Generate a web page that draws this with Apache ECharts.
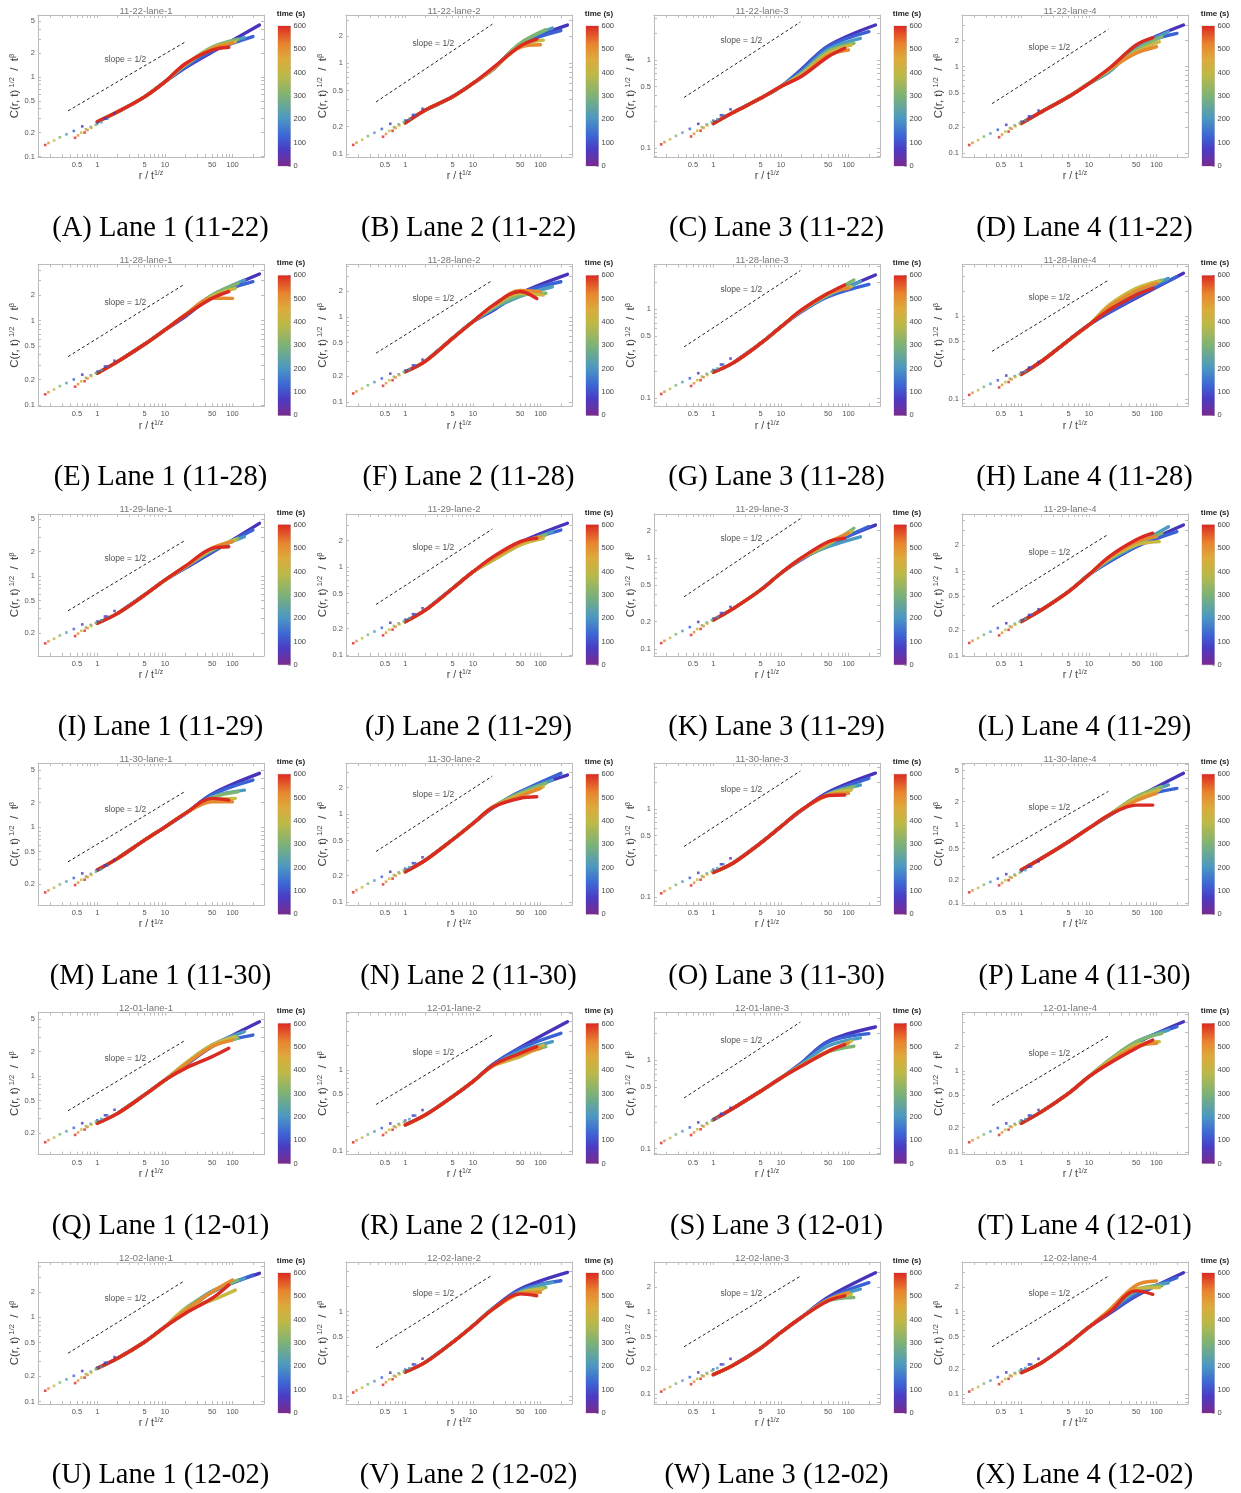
<!DOCTYPE html>
<html><head><meta charset="utf-8">
<script src="https://cdn.jsdelivr.net/npm/echarts@6/dist/echarts.min.js"></script>
<style>html,body{margin:0;padding:0;background:#fff}#c{width:1241px;height:1493px}</style>
</head><body><div id="c"></div>
<script>
// ---------------- data ----------------
const dates = ['11-22', '11-28', '11-29', '11-30', '12-01', '12-02'];
const lanes = [1, 2, 3, 4];
const letters = ['A','B','C','D','E','F','G','H','I','J','K','L','M','N','O','P','Q','R','S','T','U','V','W','X'];
const times = [60, 120, 200, 300, 400, 500, 600];          // s, one curve each
const endX = [250, 200, 150, 120, 110, 100, 88];             // last r/t^(1/z) of each curve
const bodyX = [1, 2, 5, 10];                                 // x of shared body points
const lineStartX = [2, 2, 1, 1, 1, 1, 1];
const tailX = [20, 50];
const xRange = [0.133, 292];
const xMajor = [0.5, 1, 5, 10, 50, 100];
const xTickVals = [0.2,0.3,0.4,0.5,0.6,0.7,0.8,0.9,1,2,3,4,5,6,7,8,9,10,20,30,40,50,60,70,80,90,100,200];
const yTickVals = [0.08,0.09,0.1,0.2,0.3,0.4,0.5,0.6,0.7,0.8,0.9,1,2,3,4,5,6];
const cbTicks = [0, 100, 200, 300, 400, 500, 600];
const slopeLine = [[0.37, 0.375], [19.4, 2.7]];
const slopeLabel = [2.6, 1.65];

// per panel (A..X)
const yMin = [0.099,0.0927,0.079,0.0909, 0.0963,0.0887,0.0805,0.0814, 0.105,0.098,0.0842,0.0995,
              0.11,0.092,0.0807,0.0937, 0.1085,0.0903,0.0858,0.0929, 0.0939,0.082,0.0756,0.0756];
const yMax = [5.96,3.41,3.25,3.95, 4.65,4.16,3.17,4.19, 5.8,4.02,3.06,4.71,
              6.07,3.78,3.31,6.2, 6.0,5.11,3.46,5.26, 4.52,3.84,4.02,4.02];
const yLabels = [
  [0.1,0.2,0.5,1,2,5],[0.1,0.2,0.5,1,2],[0.1,0.5,1],[0.1,0.2,0.5,1,2],
  [0.1,0.2,0.5,1,2],[0.1,0.2,0.5,1,2],[0.1,0.5,1],[0.1,0.5,1],
  [0.2,0.5,1,2,5],[0.1,0.2,0.5,1,2],[0.1,0.2,0.5,1,2],[0.1,0.2,0.5,1,2],
  [0.2,0.5,1,2,5],[0.1,0.2,0.5,1,2],[0.1,0.5,1],[0.1,0.2,0.5,1,2,5],
  [0.2,0.5,1,2,5],[0.1,0.5,1],[0.1,0.5,1],[0.1,0.2,0.5,1,2],
  [0.1,0.2,0.5,1,2],[0.1,0.5,1],[0.1,0.2,0.5,1,2],[0.1,0.2,0.5,1,2]
];
const bodyY = [
  [0.274,0.365,0.562,0.866],[0.221,0.306,0.428,0.6],[0.19,0.255,0.367,0.5],[0.222,0.303,0.45,0.64],
  [0.238,0.327,0.525,0.776],[0.227,0.303,0.56,0.88],[0.195,0.25,0.41,0.63],[0.198,0.285,0.51,0.78],
  [0.263,0.348,0.585,0.89],[0.239,0.325,0.57,0.88],[0.208,0.28,0.445,0.68],[0.253,0.348,0.57,0.9],
  [0.297,0.413,0.69,1.0],[0.221,0.3,0.51,0.78],[0.19,0.245,0.41,0.63],[0.265,0.374,0.61,0.91],
  [0.263,0.348,0.585,0.89],[0.21,0.28,0.47,0.72],[0.213,0.289,0.446,0.63],[0.226,0.315,0.53,0.85],
  [0.249,0.327,0.51,0.77],[0.195,0.255,0.435,0.68],[0.172,0.225,0.36,0.56],[0.182,0.24,0.41,0.65]
];
const y20 = [
  [1.3,1.32,1.38,1.42,1.42,1.44,1.46],[0.86,0.86,0.87,0.87,0.87,0.88,0.9],[0.78,0.76,0.72,0.7,0.68,0.66,0.65],[0.88,0.88,0.88,0.9,0.92,0.94,0.96],
  [1.12,1.14,1.17,1.18,1.18,1.17,1.16],[1.2,1.22,1.25,1.3,1.33,1.36,1.38],[0.93,0.94,0.95,0.96,0.96,0.97,0.97],[1.1,1.12,1.2,1.3,1.36,1.3,1.18],
  [1.25,1.27,1.28,1.3,1.3,1.31,1.32],[1.22,1.22,1.22,1.2,1.2,1.26,1.31],[0.96,0.97,0.98,0.98,0.99,0.99,1.0],[1.28,1.29,1.33,1.38,1.4,1.44,1.47],
  [1.45,1.46,1.46,1.47,1.47,1.47,1.47],[1.18,1.19,1.2,1.21,1.21,1.2,1.2],[0.96,0.96,0.97,0.97,0.97,0.97,0.97],[1.32,1.33,1.34,1.35,1.35,1.35,1.34],
  [1.35,1.37,1.4,1.42,1.43,1.38,1.24],[1.18,1.17,1.15,1.13,1.12,1.14,1.15],[0.93,0.92,0.9,0.88,0.87,0.86,0.855],[1.3,1.32,1.36,1.37,1.33,1.28,1.24],
  [1.15,1.18,1.24,1.28,1.25,1.2,1.11],[1.1,1.1,1.09,1.08,1.08,1.08,1.08],[0.85,0.85,0.85,0.85,0.85,0.85,0.85],[0.95,0.97,1.0,1.02,1.03,1.05,0.98]
];
const y50 = [
  [2.05,2.1,2.3,2.37,2.3,2.25,2.17],[1.6,1.6,1.65,1.66,1.55,1.5,1.55],[1.45,1.42,1.32,1.25,1.2,1.13,1.09],[1.7,1.7,1.62,1.56,1.48,1.43,1.78],
  [1.95,1.97,2.0,2.02,1.95,1.85,1.84],[1.9,1.9,1.75,1.8,1.9,2.05,2.0],[1.4,1.38,1.42,1.45,1.47,1.5,1.5],[1.65,1.7,1.9,2.1,2.16,2.0,1.79],
  [1.95,2.0,2.05,2.1,2.15,2.2,2.19],[1.9,1.85,1.8,1.78,1.78,1.88,1.94],[1.4,1.38,1.33,1.4,1.45,1.48,1.51],[1.93,1.93,2.0,2.05,2.02,2.2,2.32],
  [2.55,2.5,2.35,2.3,2.15,2.04,2.25],[1.79,1.78,1.75,1.72,1.66,1.6,1.51],[1.55,1.5,1.48,1.46,1.45,1.43,1.42],[2.2,2.2,2.25,2.3,2.2,2.05,1.8],
  [2.3,2.35,2.4,2.4,2.4,2.3,1.73],[1.9,1.85,1.7,1.55,1.46,1.55,1.61],[1.64,1.6,1.45,1.25,1.25,1.27,1.26],[2.2,2.25,2.3,2.3,2.1,2.0,1.91],
  [2.0,2.0,2.05,2.0,1.6,2.01,1.68],[1.85,1.8,1.72,1.68,1.65,1.63,1.62],[1.5,1.45,1.4,1.35,1.38,1.4,1.36],[1.55,1.6,1.75,1.85,1.9,2.1,1.79]
];
const yEnd = [
  [4.47,3.2,3.1,2.95,2.75,2.65,2.35],[2.64,2.3,2.45,2.35,1.8,1.6,1.85],[2.5,2.1,1.76,1.55,1.48,1.3,1.36],[3.03,2.42,2.53,2.22,1.94,1.7,2.16],
  [3.58,2.9,3.04,2.77,2.42,1.84,2.21],[3.18,2.6,2.27,1.9,1.81,1.98,1.65],[2.41,1.89,2.03,2.12,1.78,1.71,1.86],[3.27,2.97,2.84,2.7,2.64,2.47,2.16],
  [4.43,3.67,3.03,2.9,2.77,2.64,2.29],[3.14,2.63,2.52,2.31,2.12,2.21,2.12],[2.3,2.21,1.71,2.12,1.95,1.87,1.65],[3.48,2.9,3.32,2.78,2.21,2.53,2.78],
  [4.56,3.77,2.84,2.71,2.25,2.04,2.14],[2.77,2.9,2.43,2.23,2.04,1.96,1.57],[2.55,2.23,1.87,1.79,1.64,1.51,1.44],[4.6,2.95,3.26,3.1,2.81,2.55,1.8],
  [4.64,3.18,3.5,2.9,3.04,2.76,2.19],[3.95,2.84,2.24,1.94,2.03,1.85,1.94],[2.38,2.0,1.79,1.44,1.64,1.57,1.5],[4.06,3.52,3.2,2.92,2.3,2.2,2.41],
  [3.32,3.17,2.9,2.77,2.1,2.77,2.41],[2.9,2.31,2.21,1.93,1.85,1.69,1.54],[2.97,2.25,1.88,1.49,1.63,1.71,1.56],[2.97,2.59,2.25,2.06,1.96,2.36,1.63]
];
// y of the first (red, t = 600 s) point at r / t^(1/z) = 0.17, per panel
const dotBase = [0.14,0.126,0.11,0.125, 0.134,0.126,0.111,0.112, 0.149,0.136,0.116,0.141,
                 0.158,0.129,0.11,0.137, 0.154,0.128,0.116,0.132, 0.135,0.112,0.107,0.107];
// first three small-r points of each curve: x, and y relative to dotBase
const dotX1 = [0.6, 0.45, 0.35, 0.28, 0.23, 0.19, 0.17];
const dotX2 = [1.3, 1.0, 0.8, 0.68, 0.58, 0.52, 0.47];
const dotX3 = [1.8, 1.4, 1.15, 0.95, 0.82, 0.72, 0.65];
const dotR1 = [1.71, 1.5, 1.36, 1.25, 1.14, 1.06, 1.0];
const dotR2 = [2.14, 1.86, 1.68, 1.57, 1.43, 1.32, 1.23];
const dotR3 = [2.5, 2.14, 1.93, 1.79, 1.64, 1.54, 1.43];

// ---------------- styles ----------------
const curveColors = ['#4834bb', '#3a62d4', '#4b9ac2', '#7fb572', '#c9b841', '#e68a30', '#da2b22'];
const cbStops = [
  {offset: 0, color: '#7a2a8e'}, {offset: 0.12, color: '#4a3cc4'}, {offset: 0.22, color: '#3d67d4'},
  {offset: 0.34, color: '#4c98c2'}, {offset: 0.5, color: '#7db276'}, {offset: 0.65, color: '#bdb947'},
  {offset: 0.76, color: '#dcab3b'}, {offset: 0.87, color: '#e8852f'}, {offset: 1, color: '#dc2a22'}
];
const colOff = [0, 308, 616, 924];
const rowPitch = 249.4;
const frameColor = '#bcbcbc';
const labelColor = '#555';
const fmt = v => String(+(+v).toPrecision(3));

const grids = [], xAxes = [], yAxes = [], series = [], graphics = [];

for (let p = 0; p < 24; p++) {
  const row = Math.floor(p / 4), col = p % 4;
  const ox = colOff[col], oy = rowPitch * row;
  const gi = grids.length;
  grids.push({left: ox + 38, top: oy + 15, width: 226, height: 142});
  const yTicks = yTickVals.filter(v => v >= yMin[p] && v <= yMax[p]);
  const xi = xAxes.length, yi = yAxes.length;
  xAxes.push({
    type: 'log', gridIndex: gi, min: xRange[0], max: xRange[1], position: 'bottom',
    axisLine: {show: true, lineStyle: {color: frameColor, width: 1}},
    axisTick: {show: true, inside: true, length: 3, customValues: xTickVals, lineStyle: {color: frameColor}},
    axisLabel: {show: true, customValues: xMajor, fontSize: 7.5, color: labelColor, margin: 4,
                fontFamily: 'Liberation Sans', formatter: fmt},
    splitLine: {show: false},
    name: '{n|r / t}{s|1/z}', nameLocation: 'middle', nameGap: 12,
    nameTextStyle: {rich: {
      n: {fontSize: 10.5, color: '#444', fontFamily: 'Liberation Sans', lineHeight: 13},
      s: {fontSize: 7, color: '#444', fontFamily: 'Liberation Sans', lineHeight: 13, verticalAlign: 'top'}
    }}
  });
  xAxes.push({
    type: 'log', gridIndex: gi, min: xRange[0], max: xRange[1], position: 'top',
    axisLine: {show: true, lineStyle: {color: frameColor, width: 1}},
    axisTick: {show: true, inside: true, length: 3, customValues: xTickVals, lineStyle: {color: frameColor}},
    axisLabel: {show: false}, splitLine: {show: false}
  });
  yAxes.push({
    type: 'log', gridIndex: gi, min: yMin[p], max: yMax[p], position: 'left',
    axisLine: {show: true, lineStyle: {color: frameColor, width: 1}},
    axisTick: {show: true, inside: true, length: 3, customValues: yTicks, lineStyle: {color: frameColor}},
    axisLabel: {show: true, customValues: yLabels[p], fontSize: 7.5, color: labelColor, margin: 3,
                fontFamily: 'Liberation Sans', formatter: fmt},
    splitLine: {show: false},
    name: '{n|C(r, t)}{s| 1/2}{n|  /  t}{s|β}', nameLocation: 'middle', nameGap: 15,
    nameTextStyle: {rich: {
      n: {fontSize: 11.5, color: '#444', fontFamily: 'Liberation Sans', lineHeight: 13},
      s: {fontSize: 7.5, color: '#444', fontFamily: 'Liberation Sans', lineHeight: 13, verticalAlign: 'top'}
    }}
  });
  yAxes.push({
    type: 'log', gridIndex: gi, min: yMin[p], max: yMax[p], position: 'right',
    axisLine: {show: true, lineStyle: {color: frameColor, width: 1}},
    axisTick: {show: true, inside: true, length: 3, customValues: yTicks, lineStyle: {color: frameColor}},
    axisLabel: {show: false}, splitLine: {show: false}
  });

  // curves, earliest first so that 600 s is drawn on top
  for (let i = 0; i < times.length; i++) {
    const pts = [];
    bodyX.forEach((x, k) => { if (x >= lineStartX[i]) pts.push([x, bodyY[p][k]]); });
    pts.push([tailX[0], y20[p][i]], [tailX[1], y50[p][i]], [endX[i], yEnd[p][i]]);
    series.push({
      type: 'line', name: times[i] + ' s', xAxisIndex: xi, yAxisIndex: yi, data: pts,
      smooth: 0.35, symbol: 'none', silent: true, animation: false, z: 2,
      lineStyle: {color: curveColors[i], width: 3.4, cap: 'round'}
    });
  }
  // small-r points
  const dots = [];
  for (let i = 0; i < times.length; i++) {
    const c = {color: curveColors[i]};
    dots.push({value: [dotX1[i], dotR1[i] * dotBase[p]], itemStyle: c});
    dots.push({value: [dotX2[i], dotR2[i] * dotBase[p]], itemStyle: c});
    dots.push({value: [dotX3[i], dotR3[i] * dotBase[p]], itemStyle: c});
  }
  series.push({type: 'scatter', xAxisIndex: xi, yAxisIndex: yi, data: dots, symbol: 'rect',
               symbolSize: 2.6, silent: true, animation: false, z: 3});
  // slope guide
  series.push({type: 'line', xAxisIndex: xi, yAxisIndex: yi, data: slopeLine, symbol: 'none',
               silent: true, animation: false, z: 4,
               lineStyle: {color: '#222', width: 1, type: [3, 2.5]}});
  series.push({type: 'scatter', xAxisIndex: xi, yAxisIndex: yi, data: [slopeLabel], symbolSize: 0,
               silent: true, animation: false, z: 4,
               label: {show: true, position: 'inside', formatter: 'slope = 1/2', fontSize: 8.5,
                       color: '#222', fontFamily: 'Liberation Sans'}});

  // colour bar
  const cg = grids.length;
  grids.push({left: ox + 278, top: oy + 26, width: 12.5, height: 140, show: true,
              borderColor: '#cfcfcf', borderWidth: 1});
  const cxi = xAxes.length, cyi = yAxes.length;
  xAxes.push({type: 'category', gridIndex: cg, data: ['time'], show: false});
  yAxes.push({type: 'value', gridIndex: cg, min: 0, max: 600, interval: 100, position: 'right',
              axisLine: {show: false},
              axisTick: {show: true, inside: true, length: 2, lineStyle: {color: '#999'}},
              minorTick: {show: true, splitNumber: 5, length: 1.5, lineStyle: {color: '#aaa'}},
              axisLabel: {fontSize: 7.5, color: '#444', margin: 3, fontFamily: 'Liberation Sans'},
              splitLine: {show: false}});
  series.push({type: 'bar', xAxisIndex: cxi, yAxisIndex: cyi, data: [cbTicks[cbTicks.length - 1]],
               barWidth: '100%', silent: true, animation: false,
               itemStyle: {color: {type: 'linear', x: 0, y: 1, x2: 0, y2: 0, colorStops: cbStops}}});

  // texts
  graphics.push({type: 'text', x: ox + 146, y: oy + 11, silent: true,
    style: {text: dates[row] + '-lane-' + lanes[col], fontSize: 9.5, fontFamily: 'Liberation Sans',
            fill: '#777', textAlign: 'center', textVerticalAlign: 'middle', align: 'center', verticalAlign: 'middle'}});
  graphics.push({type: 'text', x: ox + 291, y: oy + 13.5, silent: true,
    style: {text: 'time (s)', fontSize: 8, fontWeight: 'bold', fontFamily: 'Liberation Sans',
            fill: '#222', textAlign: 'center', textVerticalAlign: 'middle', align: 'center', verticalAlign: 'middle'}});
  graphics.push({type: 'text', x: ox + 160.5, y: oy + 228.5, silent: true,
    style: {text: '(' + letters[p] + ') Lane ' + lanes[col] + ' (' + dates[row] + ')', fontSize: 28.5,
            fontFamily: 'Liberation Serif', fill: '#000', textAlign: 'center', textVerticalAlign: 'middle',
            align: 'center', verticalAlign: 'middle'}});
}

const chart = echarts.init(document.getElementById('c'), null, {renderer: 'canvas', width: 1241, height: 1493});
chart.setOption({
  backgroundColor: '#fff',
  animation: false,
  grid: grids, xAxis: xAxes, yAxis: yAxes, series: series, graphic: graphics
});
</script></body></html>
